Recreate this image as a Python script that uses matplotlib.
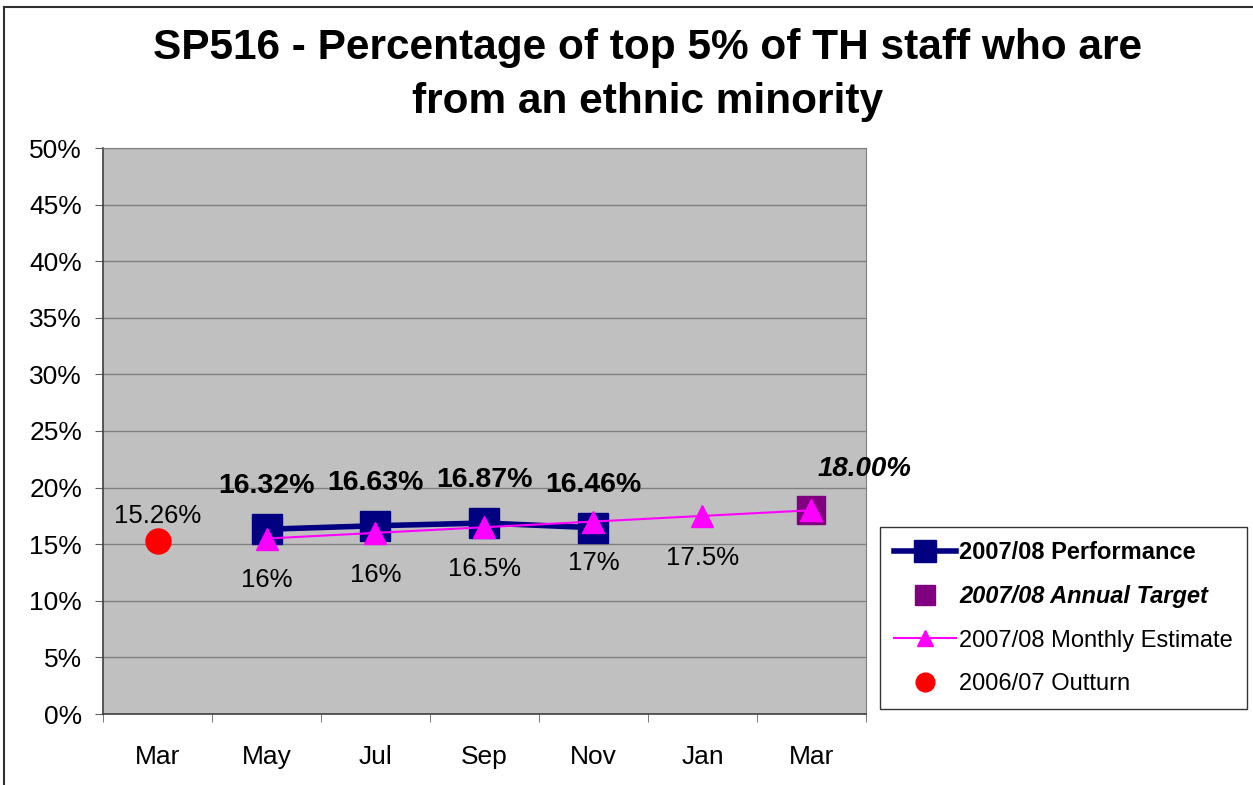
import numpy as np
import matplotlib.pyplot as plt
from matplotlib.lines import Line2D

plt.rcParams['font.family'] = ['Liberation Sans', 'DejaVu Sans']

# Daten
months = ['Mar', 'May', 'Jul', 'Sep', 'Nov', 'Jan', 'Mar']
perf_idx = [1, 2, 3, 4]
perf_vals = [16.32, 16.63, 16.87, 16.46]
perf_labels = ['16.32%', '16.63%', '16.87%', '16.46%']
target_idx = [6]
target_vals = [18.0]
target_labels = ['18.00%']
est_idx = [1, 2, 3, 4, 5, 6]
est_vals = [15.5, 16.0, 16.5, 17.0, 17.5, 18.0]
est_labels = ['16%', '16%', '16.5%', '17%', '17.5%', '']
outturn_idx = [0]
outturn_vals = [15.26]
outturn_labels = ['15.26%']

fig = plt.figure(figsize=(12.53, 7.85), dpi=100)
ax = fig.add_axes([103 / 1253, 71 / 785, 763 / 1253, 566 / 785])
ax.set_facecolor('#C0C0C0')

# Serien
ax.plot(perf_idx, perf_vals, color='#000080', lw=4, marker='s', ms=22,
        label='2007/08 Performance', zorder=3)
ax.plot(target_idx, target_vals, color='#800080', ls='none', marker='s', ms=20,
        label='2007/08 Annual Target', zorder=3)
ax.plot(est_idx, est_vals, color='#FF00FF', lw=1.5, marker='^', ms=16,
        label='2007/08 Monthly Estimate', zorder=4)
ax.plot(outturn_idx, outturn_vals, color='#FF0000', ls='none', marker='o', ms=18,
        label='2006/07 Outturn', zorder=3)

# Beschriftungen
for x, y, t in zip(perf_idx, perf_vals, perf_labels):
    ax.annotate(t, (x, y), xytext=(0, 31), textcoords='offset points',
                ha='center', va='center', fontsize=20.5, fontweight='bold')
for x, y, t in zip(est_idx, est_vals, est_labels):
    ax.annotate(t, (x, y), xytext=(0, -30), textcoords='offset points',
                ha='center', va='center', fontsize=18.5)
for x, y, t in zip(outturn_idx, outturn_vals, outturn_labels):
    ax.annotate(t, (x, y), xytext=(0, 18), textcoords='offset points',
                ha='center', va='center', fontsize=18.5)
for x, y, t in zip(target_idx, target_vals, target_labels):
    ax.annotate(t, (x, y), xytext=(38, 30), textcoords='offset points',
                ha='center', va='center', fontsize=20, fontweight='bold',
                fontstyle='italic')

# Achsen
ax.set_xlim(-0.5, len(months) - 0.5)
ax.set_ylim(0, 50)
ax.set_yticks(np.arange(0, 51, 5))
ax.set_yticklabels([f'{v}%' for v in range(0, 51, 5)], fontsize=19)
ax.yaxis.grid(True, color='#808080', lw=1)
ax.set_axisbelow(True)
ax.set_xticks(np.arange(len(months)))
ax.set_xticklabels(months, fontsize=19)
ax.set_xticks(np.arange(-0.5, len(months)), minor=True)
ax.tick_params(axis='x', which='major', length=0, pad=22)
ax.tick_params(axis='x', which='minor', length=6, color='#606060')
ax.tick_params(axis='y', length=6, color='#606060', pad=9)
for s in ['top', 'right']:
    ax.spines[s].set_color('#808080')
for s in ['left', 'bottom']:
    ax.spines[s].set_color('#404040')
    ax.spines[s].set_linewidth(1.2)

fig.text(0.517, 1 - 75 / 785,
         'SP516 - Percentage of top 5% of TH staff who are\nfrom an ethnic minority',
         fontsize=30.5, fontweight='bold', ha='center', va='center',
         linespacing=1.45)

leg = ax.legend(loc='upper left', bbox_to_anchor=(880 / 1253, 1 - 527 / 785),
                bbox_transform=fig.transFigure, fontsize=17, frameon=True,
                fancybox=False, edgecolor='black', borderpad=0.6,
                labelspacing=0.9, handlelength=2.6, handletextpad=0.15,
                markerscale=0.75, borderaxespad=0)
leg.get_frame().set_linewidth(1)
texts = leg.get_texts()
texts[0].set_fontweight('bold')
texts[1].set_fontweight('bold')
texts[1].set_fontstyle('italic')

# Rahmen der Grafik (oben und links)
x0, y0 = 4 / 1253, 1 - 7 / 785
fig.add_artist(Line2D([x0, 1.0], [y0, y0], transform=fig.transFigure,
                      color='#303030', lw=1.5))
fig.add_artist(Line2D([x0, x0], [0.0, y0], transform=fig.transFigure,
                      color='#303030', lw=1.5))

plt.savefig('out.png', dpi=100)
